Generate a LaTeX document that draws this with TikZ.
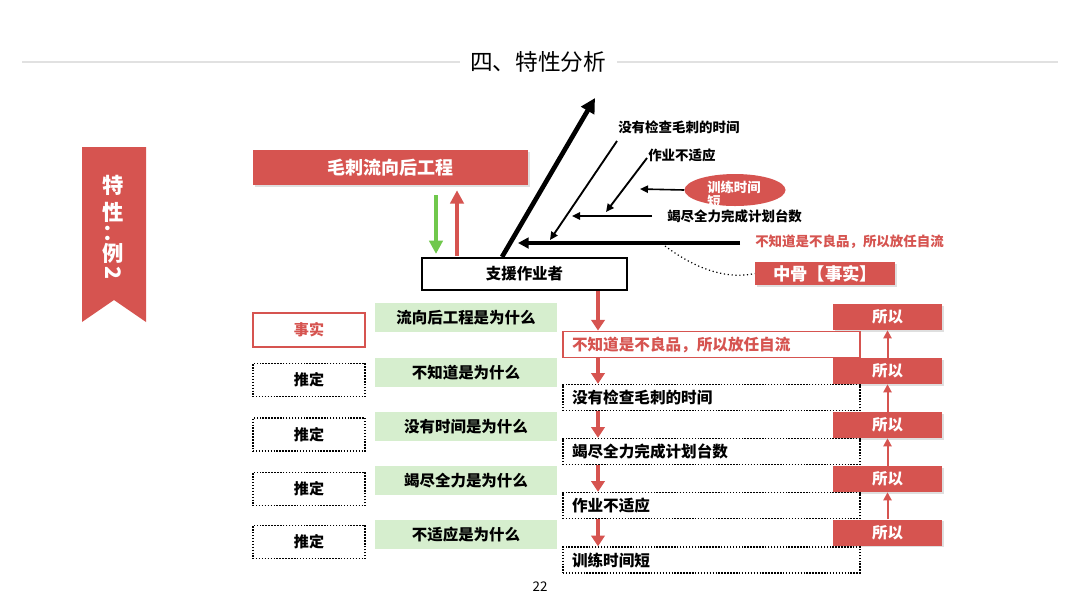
\documentclass[tikz,border=0pt]{standalone}
\usepackage{fontspec}
\setmainfont{Noto Sans CJK SC}
\usetikzlibrary{arrows.meta,calc,shapes.geometric,shadows}
\definecolor{myred}{RGB}{214,84,80}
\definecolor{mygreen}{RGB}{214,238,206}
\definecolor{arrowgreen}{RGB}{112,200,76}
\definecolor{linegray}{RGB}{225,225,225}
\tikzset{
  redbox/.style={fill=myred, draw=none, text=white, font=\bfseries\fontsize{11.6}{14}\selectfont,
    drop shadow={opacity=0.25, shadow xshift=1.2pt, shadow yshift=-1.2pt}},
  greenbox/.style={fill=mygreen, draw=none, font=\bfseries\fontsize{11.6}{14}\selectfont,
    minimum width=136.5pt, minimum height=21.75pt, inner sep=0pt},
  leftbox/.style={draw=black, line width=1.1pt, dash pattern=on 1.1pt off 1.1pt, fill=white,
    minimum width=84pt, minimum height=25pt, inner sep=0pt, font=\bfseries\fontsize{11.3}{14}\selectfont},
  factbox/.style={draw=myred, line width=1.6pt, fill=white, text=myred,
    minimum width=84pt, minimum height=25.5pt, inner sep=0pt, font=\bfseries\fontsize{11.3}{14}\selectfont},
  rightbox/.style={draw=black, line width=1.1pt, dash pattern=on 1.1pt off 1.1pt, fill=white,
    minimum height=19.5pt, text width=209.25pt, inner xsep=6.75pt, inner ysep=0pt, align=left,
    font=\bfseries\fontsize{11.7}{14}\selectfont},
  rightfact/.style={rightbox, draw=myred, line width=1.4pt, solid, text=myred},
  sobox/.style={redbox, minimum width=81.75pt, minimum height=19.5pt, inner sep=0pt},
  fishlabel/.style={anchor=west, inner sep=0pt, font=\bfseries\fontsize{10.1}{12}\selectfont},
  downarrow/.style={draw=myred, line width=2.8pt, -{Triangle[width=10pt,length=8pt]}},
  uparrow/.style={draw=myred, line width=1.5pt, -{Triangle[width=6pt,length=6pt]}},
  thinarrow/.style={draw=black, line width=1.4pt, -{Triangle[width=5.5pt,length=6pt]}},
}
\begin{document}
\begin{tikzpicture}[x=0.75pt,y=-0.75pt]
\useasboundingbox[fill=white] (0,0) rectangle (1080,608);

% title
\node[font=\fontsize{17}{20}\selectfont, inner sep=0pt] (title) at (538,62) {四、特性分析};
\coordinate (tl1) at (22,62); \coordinate (tl2) at (460,62);
\coordinate (tr1) at (617,62); \coordinate (tr2) at (1058,62);
\draw[linegray, line width=1.2pt] (tl1) -- (tl2);
\draw[linegray, line width=1.2pt] (tr1) -- (tr2);

% ribbon
\fill[myred] (82,147) -- (146,147) -- (146,322) -- (114,300) -- (82,322) -- cycle;
\begin{scope}[every node/.style={text=white, font=\bfseries\fontsize{16}{17}\selectfont, inner sep=0pt}]
\node (rb1) at (113,185) {特};
\node (rb2) at (113,212) {性};
\node (rb3) at (113,233) {：};
\node (rb4) at (113,253) {例};
\node (rb5) at (113,273) {\rotatebox{-90}{2}};
\end{scope}

% top
\node[redbox, minimum width=206.25pt, minimum height=26.25pt, inner sep=0pt,
  font=\bfseries\fontsize{13.5}{16}\selectfont] (mao) at (390.5,167.5) {毛刺流向后工程};
\node[draw=black, line width=1.6pt, fill=white, minimum width=153.75pt, minimum height=24pt,
  inner sep=0pt, font=\bfseries\fontsize{11.6}{14}\selectfont] (support) at (524.5,274) {支援作业者};

\draw[draw=arrowgreen, line width=3pt, -{Triangle[width=10pt,length=10pt]}]
  ($(mao.south)+(45.5,10)$) -- ($(support.north)+(-88.5,-3)$);
\draw[draw=myred, line width=3pt, -{Triangle[width=10pt,length=10pt]}]
  ($(support.north)+(-67.5,-1)$) -- ($(mao.south)+(66.5,5)$);

% fishbone
\coordinate (bigtip) at (595,98);
\draw[line width=3.5pt, -{Triangle[width=11pt,length=11pt]}] ($(support.north)+(-22.5,0)$) -- (bigtip);

\node[fishlabel] (l1) at (618,127) {没有检查毛刺的时间};
\node[fishlabel] (l2) at (648,155) {作业不适应};
\node[fishlabel] (l4) at (667,216) {竭尽全力完成计划台数};
\node[fishlabel, text=myred] (l5) at (755,242) {不知道是不良品，所以放任自流};
\node[redbox, minimum width=105pt, minimum height=17.25pt, inner sep=0pt,
  font=\bfseries\fontsize{13}{15}\selectfont] (zg) at (825,273.5) {中骨【事实】};

\node[ellipse, fill=myred, minimum width=75.75pt, minimum height=24pt, inner sep=0pt] (ell) at (735,190) {};
\begin{scope}
\clip (735,190) ellipse [x radius=37.875pt, y radius=12pt];
\node[anchor=north west, inner sep=0pt, text=white, align=left,
  font=\bfseries\fontsize{10}{10.5}\selectfont] (elltext) at (707,180.5) {训练时间\\短};
\end{scope}

\coordinate (a1s) at (617,141); \coordinate (a1e) at (550,240);
\coordinate (a2s) at (647,158); \coordinate (a2e) at (606,212);
\coordinate (a3e) at (640,189);
\coordinate (a4s) at (652,216); \coordinate (a4e) at (572,216);
\coordinate (a5s) at (740,243); \coordinate (a5e) at (518,243);
\draw[thinarrow] (a1s) -- (a1e);
\draw[thinarrow] (a2s) -- (a2e);
\draw[thinarrow, line width=1.2pt] (ell.west) -- (a3e);
\draw[thinarrow, line width=2pt] (a4s) -- (a4e);
\draw[thinarrow, line width=2.8pt, -{Triangle[width=8pt,length=8pt]}] (a5s) -- (a5e);
\coordinate (dc) at (665,246);
\draw[black, line width=0.9pt, dotted] (dc) .. controls (700,272) and (730,279) .. (zg.west);

% left column
\node[factbox] (f0) at (309,330) {事实};
\node[leftbox] (f1) at (309,380) {推定};
\node[leftbox] (f2) at (309,434.5) {推定};
\node[leftbox] (f3) at (309,489) {推定};
\node[leftbox] (f4) at (309,542) {推定};

% green column
\node[greenbox] (g0) at (466,317.5) {流向后工程是为什么};
\node[greenbox] (g1) at (466,372.5) {不知道是为什么};
\node[greenbox] (g2) at (466,426.5) {没有时间是为什么};
\node[greenbox] (g3) at (466,480.5) {竭尽全力是为什么};
\node[greenbox] (g4) at (466,534.5) {不适应是为什么};

% so column
\node[sobox] (s0) at (887.5,317) {所以};
\node[sobox] (s1) at (887.5,371) {所以};
\node[sobox] (s2) at (887.5,425) {所以};
\node[sobox] (s3) at (887.5,479) {所以};
\node[sobox] (s4) at (887.5,532.5) {所以};

% right column
\node[rightfact] (r0) at (711.5,344.5) {不知道是不良品，所以放任自流};
\node[rightbox] (r1) at (711.5,397.5) {没有检查毛刺的时间};
\node[rightbox] (r2) at (711.5,451.5) {竭尽全力完成计划台数};
\node[rightbox] (r3) at (711.5,505.5) {作业不适应};
\node[rightbox] (r4) at (711.5,560) {训练时间短};

\coordinate (dx) at (598,0);
\draw[downarrow] (support.south -| dx) -- (r0.north -| dx);
\draw[downarrow] (r0.south -| dx) -- (r1.north -| dx);
\draw[downarrow] (r1.south -| dx) -- (r2.north -| dx);
\draw[downarrow] (r2.south -| dx) -- (r3.north -| dx);
\draw[downarrow] (r3.south -| dx) -- (r4.north -| dx);

\draw[uparrow] (s1.north) -- (s0.south);
\draw[uparrow] (s2.north) -- (s1.south);
\draw[uparrow] (s3.north) -- (s2.south);
\draw[uparrow] (s4.north) -- (s3.south);

\node[font=\fontsize{10}{12}\selectfont, inner sep=0pt] (page) at (540,587) {22};
\end{tikzpicture}
\end{document}
